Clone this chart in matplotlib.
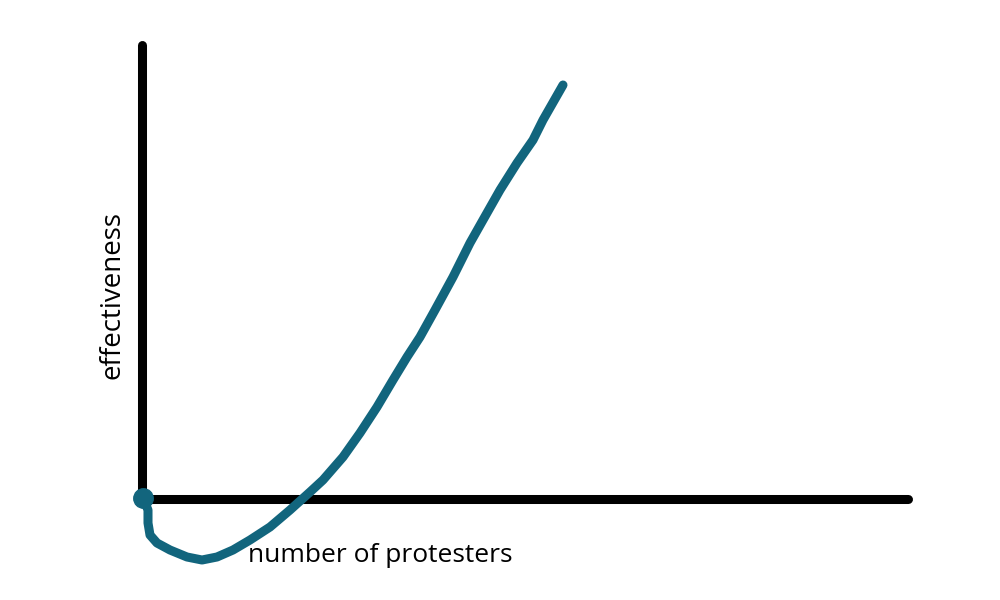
import matplotlib
matplotlib.use("Agg")
import matplotlib.pyplot as plt

# hand-drawn curve, data units = pixels from the origin
curve_x = [1, 6, 6, 8, 15, 28, 45, 60, 75, 91, 108, 128, 148, 168, 181, 201, 218, 235,
           251, 265, 278, 293, 311, 328, 341, 358, 375, 391, 401, 421]
curve_y = [1, -11, -24, -36, -44, -51, -58, -61, -58, -51, -41, -28, -11, 7, 19, 42, 66, 92,
           119, 142, 162, 189, 222, 256, 279, 309, 336, 359, 379, 414]
x_axis_len = 766
y_axis_len = 454
x_label = "number of protesters"
y_label = "effectiveness"

teal = "#12657d"

plt.rcParams['font.family'] = ['Open Sans', 'DejaVu Sans']

fig = plt.figure(figsize=(10, 6), dpi=100)
ax = fig.add_axes([0, 0, 1, 1])
ax.set_xlim(-142, 858)
ax.set_ylim(-101, 499)
ax.axis('off')

# axes drawn as thick strokes
ax.plot([0, 0], [0, y_axis_len], color='black', lw=6.5, solid_capstyle='round')
ax.plot([0, x_axis_len], [0, 0], color='black', lw=6.5, solid_capstyle='round')

ax.plot(curve_x, curve_y, color=teal, lw=6.5, solid_capstyle='round', solid_joinstyle='round')
ax.plot([curve_x[0]], [curve_y[0]], 'o', color=teal, ms=14)

ax.text(-30, 204, y_label, rotation=90, ha='center', va='center', fontsize=20)
ax.text(106, -56, x_label, ha='left', va='center', fontsize=19)

fig.savefig("out.png", dpi=100)
